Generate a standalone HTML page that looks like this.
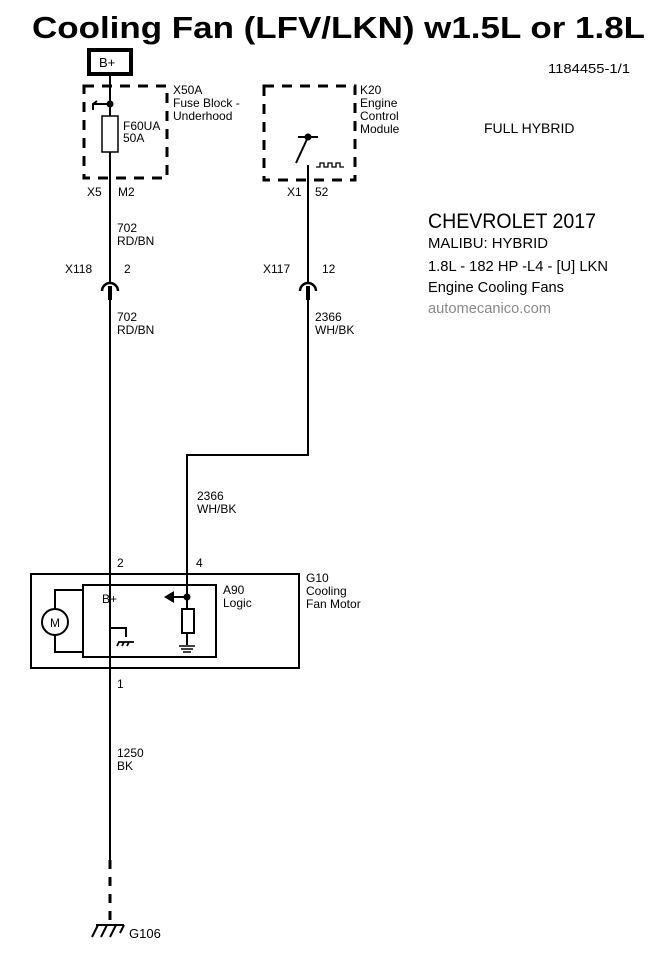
<!DOCTYPE html>
<html><head><meta charset="utf-8"><style>
html,body{margin:0;padding:0;background:#fff;}
svg{display:block;}
text{font-family:"Liberation Sans",Arial,sans-serif;fill:#000;}
</style></head><body>
<svg width="670" height="956" viewBox="0 0 670 956" xmlns="http://www.w3.org/2000/svg">
<text x="32" y="38" font-size="31" font-weight="bold" textLength="613" lengthAdjust="spacingAndGlyphs">Cooling Fan (LFV/LKN) w1.5L or 1.8L</text>
<text x="548" y="73" font-size="13" textLength="82" lengthAdjust="spacingAndGlyphs">1184455-1/1</text>
<text x="484" y="133" font-size="14">FULL  HYBRID</text>
<text x="428" y="228" font-size="21" textLength="168" lengthAdjust="spacingAndGlyphs">CHEVROLET 2017</text>
<text x="428" y="248" font-size="15" textLength="120" lengthAdjust="spacingAndGlyphs">MALIBU: HYBRID</text>
<text x="428" y="271" font-size="15" textLength="180" lengthAdjust="spacingAndGlyphs">1.8L - 182 HP -L4 - [U] LKN</text>
<text x="428" y="292" font-size="15" textLength="136" lengthAdjust="spacingAndGlyphs">Engine Cooling Fans</text>
<text x="428" y="313" font-size="15" fill="#888" style="fill:#888" textLength="123" lengthAdjust="spacingAndGlyphs">automecanico.com</text>

<g stroke="#000" fill="none">
<!-- B+ box -->
<rect x="89" y="50" width="42" height="24" stroke-width="4"/>
<!-- fuse block dashed -->
<rect x="84" y="86" width="83" height="92" stroke-width="3" stroke-dasharray="10,8"/>
<rect x="264" y="86" width="91" height="94" stroke-width="3" stroke-dasharray="10,8"/>
<!-- left wire -->
<line x1="110" y1="74" x2="110" y2="283" stroke-width="2"/>
<path d="M102 291 A8 8 0 0 1 118 291" stroke-width="2.5"/>
<line x1="110" y1="286" x2="110" y2="300" stroke-width="4"/>
<line x1="110" y1="300" x2="110" y2="860" stroke-width="2"/>
<line x1="110" y1="860" x2="110" y2="925" stroke-width="3" stroke-dasharray="9,8"/>
<!-- fuse -->
<rect x="102" y="116" width="16" height="36" fill="#fff" stroke-width="1.5"/>
<path d="M93 110 L93 104 L97 101 M93 104 L110 104" stroke-width="2"/>
<!-- K20 switch -->
<line x1="298" y1="137" x2="318" y2="137" stroke-width="2"/>
<line x1="308" y1="137" x2="296" y2="163" stroke-width="2"/>
<path d="M316 167 h4 v-4 h4 v4 h4 v-4 h4 v4 h4 v-4 h4 v4 h4" stroke-width="1.3"/>
<!-- right wire -->
<line x1="308" y1="165" x2="308" y2="283" stroke-width="2"/>
<path d="M300 291 A8 8 0 0 1 316 291" stroke-width="2.5"/>
<line x1="308" y1="286" x2="308" y2="300" stroke-width="4"/>
<polyline points="308,300 308,455 187,455 187,597" stroke-width="2"/>
<!-- G10 box -->
<rect x="31" y="574" width="268" height="94" stroke-width="2"/>
<rect x="83" y="585" width="133" height="72" stroke-width="2"/>
<!-- motor -->
<circle cx="55" cy="622" r="13" stroke-width="2"/>
<polyline points="55,609 55,590 83,590" stroke-width="2"/>
<polyline points="55,635 55,652 83,652" stroke-width="2"/>
<!-- inner ground -->
<polyline points="110,668 110,628 126,628 126,637" stroke-width="2"/>
<path d="M118 642 L134 642 M119 642 L117 646 M124 642 L122 646 M129 642 L127 646" stroke-width="1.8"/>
<!-- arrow & resistor -->
<line x1="172" y1="597" x2="187" y2="597" stroke-width="2"/>
<rect x="182" y="609" width="12" height="24" stroke-width="2"/>
<line x1="187" y1="597" x2="187" y2="609" stroke-width="2"/>
<line x1="187" y1="633" x2="187" y2="645" stroke-width="2"/>
<path d="M179 646 h16 M181 649 h12 M183 652 h8" stroke-width="1.5"/>
<!-- G106 ground -->
<path d="M96 925 L124 925 M98 925 L92 937 M107 925 L101 937 M116 925 L110 937 M124 925 L120 933" stroke-width="2"/>
</g>
<circle cx="110" cy="104" r="3.5"/>
<circle cx="308" cy="137" r="3.5"/>
<circle cx="187" cy="597" r="3.5"/>
<polygon points="164,597 174,591 174,603"/>

<g font-size="12">
<text x="99" y="67" font-size="13">B+</text>
<text x="123" y="130">F60UA</text>
<text x="123" y="142">50A</text>
<text x="173" y="94">X50A</text>
<text x="173" y="107">Fuse Block -</text>
<text x="173" y="120">Underhood</text>
<text x="360" y="94">K20</text>
<text x="360" y="107">Engine</text>
<text x="360" y="120">Control</text>
<text x="360" y="133">Module</text>
<text x="87" y="196">X5</text>
<text x="118" y="196">M2</text>
<text x="287" y="196">X1</text>
<text x="315" y="196">52</text>
<text x="117" y="232">702</text>
<text x="117" y="245">RD/BN</text>
<text x="65" y="273">X118</text>
<text x="124" y="273">2</text>
<text x="263" y="273">X117</text>
<text x="322" y="273">12</text>
<text x="117" y="321">702</text>
<text x="117" y="334">RD/BN</text>
<text x="315" y="321">2366</text>
<text x="315" y="334">WH/BK</text>
<text x="197" y="500">2366</text>
<text x="197" y="513">WH/BK</text>
<text x="117" y="567">2</text>
<text x="196" y="567">4</text>
<text x="102" y="603">B+</text>
<text x="223" y="594">A90</text>
<text x="223" y="607">Logic</text>
<text x="306" y="582">G10</text>
<text x="306" y="595">Cooling</text>
<text x="306" y="608">Fan Motor</text>
<text x="50" y="627" font-size="12">M</text>
<text x="117" y="688">1</text>
<text x="117" y="757">1250</text>
<text x="117" y="770">BK</text>
<text x="129" y="938" font-size="13">G106</text>
</g>
</svg>
</body></html>
